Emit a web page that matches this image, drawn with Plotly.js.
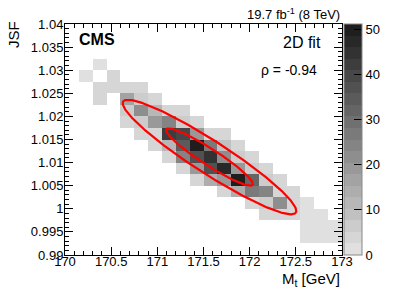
<!DOCTYPE html>
<html>
<head>
<meta charset="utf-8">
<script src="https://cdn.plot.ly/plotly-3.0.1.min.js"></script>
<style>
html,body{margin:0;padding:0;background:#fff;}
#chart{width:407px;height:294px;}
</style>
</head>
<body>
<div id="chart"></div>
<script>
// Bin edges (M_t in GeV, JSF)
const mtEdges = [170.00,170.15,170.30,170.45,170.60,170.75,170.90,171.05,171.20,171.35,171.50,
                 171.65,171.80,171.95,172.10,172.25,172.40,172.55,172.70,172.85,173.00];
const jsfEdges = [0.9900,0.9925,0.9950,0.9975,1.0000,1.0025,1.0050,1.0075,1.0100,1.0125,1.0150,
                  1.0175,1.0200,1.0225,1.0250,1.0275,1.0300,1.0325,1.0350,1.0375,1.0400];

// Counts: one row per JSF bin (bottom to top), one column per M_t bin (left to right); null = empty
const _ = null;
const counts = [
  [_,_,_,_,_,_,_,_,_,_,_,_,_,_,_,_,_,_,_,_],          // 0.9900
  [_,_,_,_,_,_,_,_,_,_,_,_,_,_,_,_,_,2,2,2],          // 0.9925
  [_,_,_,_,_,_,_,_,_,_,_,_,_,_,_,_,_,2,2,2],          // 0.9950
  [_,_,_,_,_,_,_,_,_,_,_,_,_,_,3,3,3,2,2,_],          // 0.9975
  [_,_,_,_,_,_,_,_,_,_,_,_,_,4,7,22,3,2,_,_],         // 1.0000
  [_,_,_,_,_,_,_,_,_,_,_,4,15,27,25,5,3,_,_,_],       // 1.0025
  [_,_,_,_,_,_,_,_,_,4,14,20,50,33,6,3,_,_,_,_],      // 1.0050
  [_,_,_,_,_,_,_,_,4,20,38,48,20,6,3,_,_,_,_,_],      // 1.0075
  [_,_,_,_,_,_,_,4,25,38,45,22,7,3,_,_,_,_,_,_],      // 1.0100
  [_,_,_,_,_,_,4,12,35,50,28,8,4,_,_,_,_,_,_,_],      // 1.0125
  [_,_,_,_,_,4,5,42,40,20,5,3,_,_,_,_,_,_,_,_],       // 1.0150
  [_,_,_,_,5,6,20,24,6,4,_,_,_,_,_,_,_,_,_,_],        // 1.0175
  [_,_,_,_,6,22,12,5,4,_,_,_,_,_,_,_,_,_,_,_],        // 1.0200
  [_,_,3,_,16,7,5,_,_,_,_,_,_,_,_,_,_,_,_,_],         // 1.0225
  [_,_,4,4,4,3,_,_,_,_,_,_,_,_,_,_,_,_,_,_],          // 1.0250
  [_,2,_,3,_,_,_,_,_,_,_,_,_,_,_,_,_,_,_,_],          // 1.0275
  [_,_,2,_,_,_,_,_,_,_,_,_,_,_,_,_,_,_,_,_],          // 1.0300
  [_,_,_,_,_,_,_,_,_,_,_,_,_,_,_,_,_,_,_,_],          // 1.0325
  [_,_,_,_,_,_,_,_,_,_,_,_,_,_,_,_,_,_,_,_],          // 1.0350
  [_,_,_,_,_,_,_,_,_,_,_,_,_,_,_,_,_,_,_,_]           // 1.0375
];

// 2D fit result: contours drawn from the fitted Gaussian
const fitMt = 171.565;
const fitJsf = 1.0112;
const sigmaMt = 0.47;
const sigmaJsf = 0.0062;
const rho = -0.94;
const contourSigmas = [1, 2];

const colorbarTicks = [0, 10, 20, 30, 40, 50];

// Discrete grey palette (ROOT-like), 20 bands
const nBands = 20;
const cs = [];
for (let b = 0; b < nBands; b++) {
  const g = Math.round(224 - b * (224 - 30) / (nBands - 1));
  const c = 'rgb(' + g + ',' + g + ',' + g + ')';
  cs.push([b / nBands, c]);
  cs.push([(b + 1) / nBands, c]);
}

const traces = [{
  type: 'heatmap',
  x: mtEdges,
  y: jsfEdges,
  z: counts,
  zmin: 0,
  zmax: 51.2,
  colorscale: cs,
  hoverongaps: false,
  colorbar: {
    thickness: 18, thicknessmode: 'pixels',
    len: 1, lenmode: 'fraction',
    x: 1.007, xanchor: 'left', xpad: 0,
    y: 0, yanchor: 'bottom', ypad: 0,
    outlinewidth: 1, outlinecolor: '#888',
    ticks: 'inside', ticklen: 8, tickcolor: '#000', tickwidth: 1,
    tickvals: colorbarTicks,
    tickfont: {family: 'Liberation Sans, Arial, sans-serif', size: 13, color: '#000'}
  }
}];

const sq = Math.sqrt(1 - rho * rho);
contourSigmas.forEach(function(n) {
  const xs = [], ys = [];
  for (let s = 0; s <= 240; s++) {
    const t = 2 * Math.PI * s / 240;
    xs.push(fitMt + n * sigmaMt * Math.cos(t));
    ys.push(fitJsf + n * sigmaJsf * (rho * Math.cos(t) + sq * Math.sin(t)));
  }
  traces.push({type: 'scatter', mode: 'lines', x: xs, y: ys,
               line: {color: '#ff0000', width: 2.2}, showlegend: false, hoverinfo: 'skip'});
});

const font = 'Liberation Sans, Arial, sans-serif';
const axisCommon = {
  showgrid: false, zeroline: false,
  showline: true, linecolor: '#000', linewidth: 1, mirror: 'ticks',
  ticks: 'inside', ticklen: 8, tickcolor: '#000', tickwidth: 1,
  tickfont: {family: font, size: 13, color: '#000'}
};

const layout = {
  width: 407, height: 294,
  margin: {l: 65, r: 65, t: 24, b: 39, pad: 0},
  paper_bgcolor: '#fff', plot_bgcolor: '#fff',
  showlegend: false,
  font: {family: font, color: '#000'},
  xaxis: Object.assign({}, axisCommon, {
    range: [170, 173], dtick: 0.5, tick0: 170, ticklabelstandoff: -6,
    minor: {dtick: 0.1, ticks: 'inside', ticklen: 4, tickcolor: '#000'}
  }),
  yaxis: Object.assign({}, axisCommon, {
    range: [0.99, 1.04], dtick: 0.005, tick0: 0.99, ticklabelstandoff: -2,
    minor: {dtick: 0.001, ticks: 'inside', ticklen: 4, tickcolor: '#000'}
  }),
  annotations: [
    {xref: 'paper', yref: 'paper', x: 1, y: -0.108, xanchor: 'right', yanchor: 'middle',
     text: 'M<sub>t</sub> [GeV]', showarrow: false, font: {family: font, size: 15}},
    {xref: 'paper', yref: 'paper', x: -0.184, y: 1.02, xanchor: 'center', yanchor: 'top',
     text: 'JSF', textangle: -90, showarrow: false, font: {family: font, size: 15}},
    {xref: 'paper', yref: 'paper', x: 1, y: 1.043, xanchor: 'right', yanchor: 'middle',
     text: '19.7 fb<sup>-1</sup> (8 TeV)', showarrow: false, font: {family: font, size: 13}},
    {xref: 'paper', yref: 'paper', x: 0.043, y: 0.933, xanchor: 'left', yanchor: 'middle',
     text: '<b>CMS</b>', showarrow: false, font: {family: font, size: 16}},
    {xref: 'paper', yref: 'paper', x: 0.932, y: 0.922, xanchor: 'right', yanchor: 'middle',
     text: '2D fit', showarrow: false, font: {family: font, size: 16}},
    {xref: 'paper', yref: 'paper', x: 0.918, y: 0.801, xanchor: 'right', yanchor: 'middle',
     text: 'ρ = -0.94', showarrow: false, font: {family: font, size: 14}}
  ]
};

Plotly.newPlot('chart', traces, layout, {staticPlot: true, displayModeBar: false});
</script>
</body>
</html>
